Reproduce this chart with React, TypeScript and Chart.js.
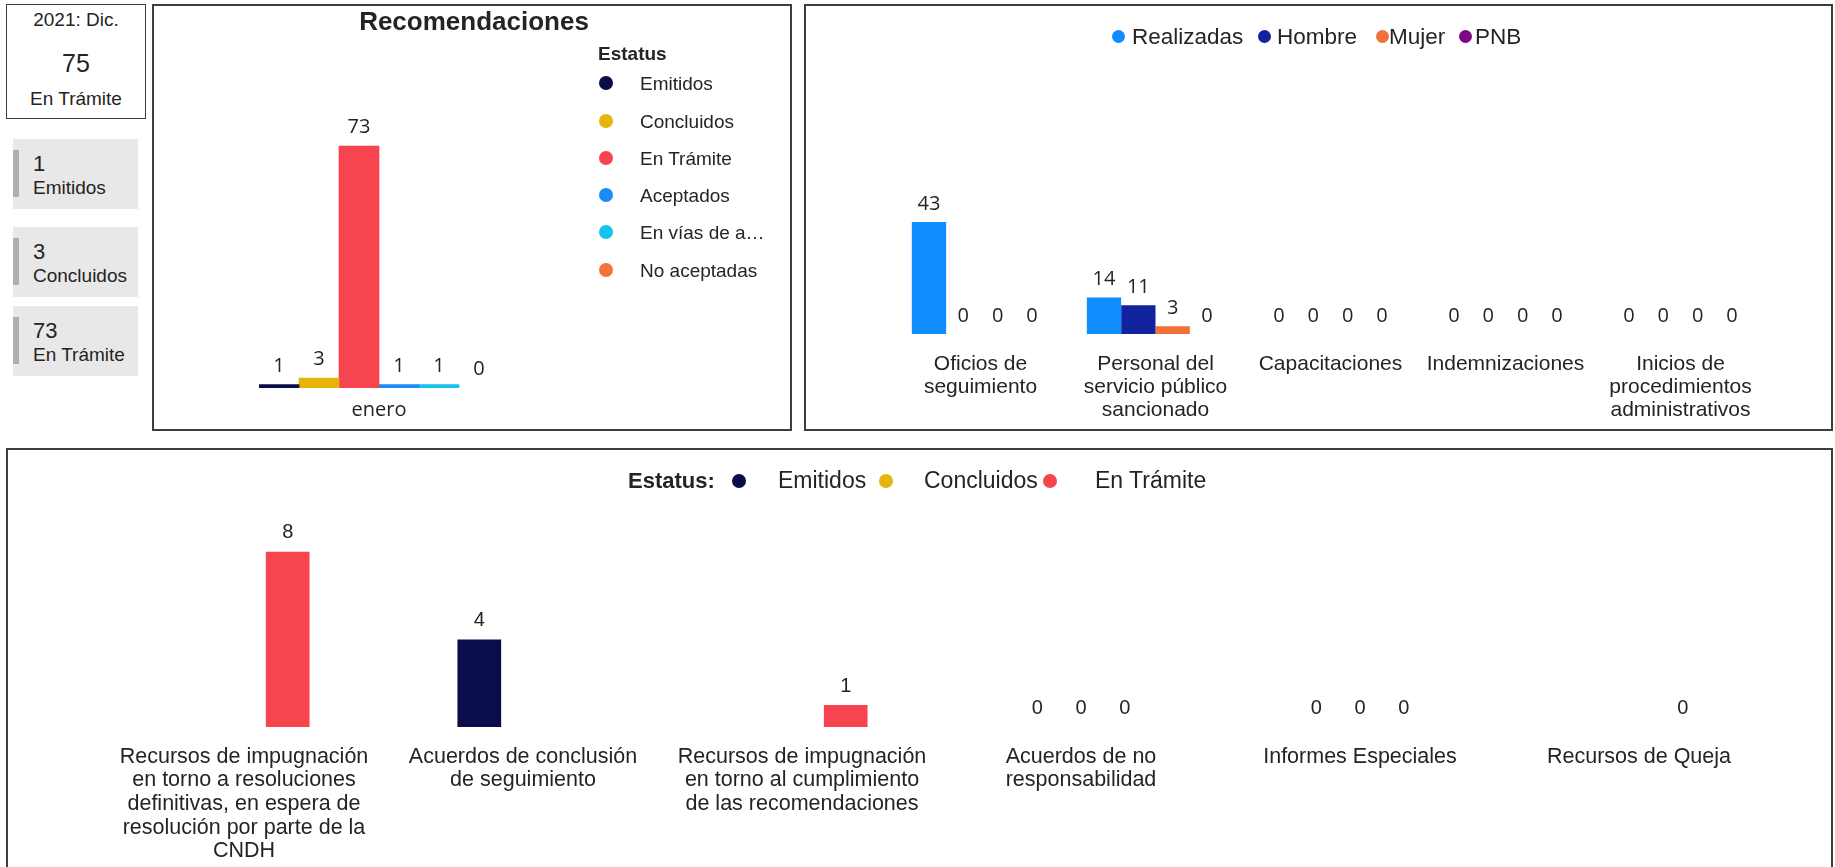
import React, { useEffect, useRef } from 'react';
import { Chart, registerables } from 'chart.js';

Chart.register(...registerables);

// ---------- DATA ----------
const kpiPeriod = '2021: Dic.';
const kpiTotal = 75;
const kpiTotalLabel = 'En Trámite';

const cardValues = [1, 3, 73];
const cardLabels = ['Emitidos', 'Concluidos', 'En Trámite'];

const recTitle = 'Recomendaciones';
const recCategories = ['enero'];
const recSeries = ['Emitidos', 'Concluidos', 'En Trámite', 'Aceptados', 'En vías de a…', 'No aceptadas'];
const recValues = [1, 3, 73, 1, 1, 0];
const recColors = ['#0B0C4A', '#E5B50B', '#F7454F', '#1A8CF5', '#16C3EE', '#F5733A'];

const segCategories = [
  ['Oficios de', 'seguimiento'],
  ['Personal del', 'servicio público', 'sancionado'],
  ['Capacitaciones'],
  ['Indemnizaciones'],
  ['Inicios de', 'procedimientos', 'administrativos'],
];
const segSeries = ['Realizadas', 'Hombre', 'Mujer', 'PNB'];
const segRealizadas = [43, 14, 0, 0, 0];
const segHombre = [0, 11, 0, 0, 0];
const segMujer = [0, 3, 0, 0, 0];
const segPNB = [0, 0, 0, 0, 0];
const segColors = ['#118DFF', '#12239E', '#F2703A', '#7B0A84'];

const otrosCategories = [
  ['Recursos de impugnación', 'en torno a resoluciones', 'definitivas, en espera de', 'resolución por parte de la', 'CNDH'],
  ['Acuerdos de conclusión', 'de seguimiento'],
  ['Recursos de impugnación', 'en torno al cumplimiento', 'de las recomendaciones'],
  ['Acuerdos de no', 'responsabilidad'],
  ['Informes Especiales'],
  ['Recursos de Queja'],
];
const otrosSeries = ['Emitidos', 'Concluidos', 'En Trámite'];
const otrosEmitidos = [null, 4, null, 0, 0, null];
const otrosConcluidos = [null, null, null, 0, 0, null];
const otrosEnTramite = [8, null, 1, 0, 0, 0];
const otrosColors = ['#0B0C4A', '#E5B50B', '#F7454F'];

// ---------- HELPERS ----------
const SANS = "'Liberation Sans', Arial, sans-serif";
const OPEN = "'Open Sans', 'Liberation Sans', sans-serif";
const TEXT = '#252423';
const BORDER = '#3d3d3d';

function colorUnlessZero(color: string) {
  return (c: any) => (c.raw === 0 ? 'rgba(0,0,0,0)' : color);
}

function valueLabels(font: string, offset: number) {
  return {
    id: 'valueLabels',
    afterDatasetsDraw(chart: any) {
      const ctx = chart.ctx;
      ctx.save();
      ctx.font = font;
      ctx.fillStyle = TEXT;
      ctx.textAlign = 'center';
      ctx.textBaseline = 'middle';
      chart.data.datasets.forEach((ds: any, di: number) => {
        const meta = chart.getDatasetMeta(di);
        meta.data.forEach((el: any, i: number) => {
          const v = ds.data[i];
          if (v === null || v === undefined) return;
          ctx.fillText(String(v), el.x, el.y - offset);
        });
      });
      ctx.restore();
    },
  };
}

function BarCanvas(props: { left: number; top: number; width: number; height: number; make: () => any }) {
  const ref = useRef<HTMLCanvasElement | null>(null);
  useEffect(() => {
    const chart = new Chart(ref.current as HTMLCanvasElement, props.make());
    return () => chart.destroy();
  }, []);
  return (
    <canvas
      ref={ref}
      width={props.width}
      height={props.height}
      style={{ position: 'absolute', left: props.left, top: props.top, width: props.width, height: props.height }}
    />
  );
}

function T(props: { x: number; y: number; size: number; bold?: boolean; align?: 'left' | 'center'; family?: string; children: any }) {
  const lh = Math.round(props.size * 1.3);
  const center = props.align === 'center';
  return (
    <div
      style={{
        position: 'absolute',
        left: center ? props.x - 300 : props.x,
        width: center ? 600 : undefined,
        top: props.y - lh / 2,
        height: lh,
        lineHeight: lh + 'px',
        fontSize: props.size,
        fontWeight: props.bold ? 700 : 400,
        fontFamily: props.family || SANS,
        color: TEXT,
        textAlign: center ? 'center' : 'left',
        whiteSpace: 'nowrap',
      }}
    >
      {props.children}
    </div>
  );
}

function Dot(props: { x: number; y: number; d: number; color: string }) {
  return (
    <div
      style={{
        position: 'absolute',
        left: props.x - props.d / 2,
        top: props.y - props.d / 2,
        width: props.d,
        height: props.d,
        borderRadius: '50%',
        background: props.color,
      }}
    />
  );
}

function Panel(props: { left: number; top: number; right: number; bottom: number }) {
  return (
    <div
      style={{
        position: 'absolute',
        left: props.left,
        top: props.top,
        width: props.right - props.left,
        height: props.bottom - props.top,
        border: '2px solid ' + BORDER,
        boxSizing: 'border-box',
        background: '#fff',
      }}
    />
  );
}

// ---------- CHART CONFIGS ----------
function makeRec() {
  return {
    type: 'bar',
    data: {
      labels: recCategories,
      datasets: recSeries.map((s, i) => ({
        label: s,
        data: [recValues[i]],
        backgroundColor: colorUnlessZero(recColors[i]),
        borderWidth: 0,
      })),
    },
    options: {
      responsive: false,
      animation: false,
      layout: { padding: { left: 105, right: 291, top: 117, bottom: 0 } },
      plugins: { legend: { display: false }, tooltip: { enabled: false } },
      datasets: { bar: { categoryPercentage: 1, barPercentage: 1 } },
      scales: {
        x: {
          grid: { display: false, drawTicks: false },
          border: { display: false },
          ticks: { padding: 10, color: TEXT, font: { family: OPEN, size: 20, lineHeight: 1.2 } },
          afterFit: (s: any) => { s.height = 40; },
        },
        y: { display: false, min: 0, max: 80 },
      },
    },
    plugins: [valueLabels(`20px ${OPEN}`, 18.5)],
  };
}

function makeSeg() {
  const vals = [segRealizadas, segHombre, segMujer, segPNB];
  return {
    type: 'bar',
    data: {
      labels: segCategories,
      datasets: segSeries.map((s, i) => ({
        label: s,
        data: vals[i],
        backgroundColor: colorUnlessZero(segColors[i]),
        borderWidth: 0,
      })),
    },
    options: {
      responsive: false,
      animation: false,
      layout: { padding: { left: 87, right: 63, top: 67.5, bottom: 0 } },
      plugins: { legend: { display: false }, tooltip: { enabled: false } },
      datasets: { bar: { categoryPercentage: 0.785, barPercentage: 1 } },
      scales: {
        x: {
          grid: { display: false, drawTicks: false },
          border: { display: false },
          ticks: { padding: 18.5, color: TEXT, autoSkip: false, maxRotation: 0, font: { family: SANS, size: 21, lineHeight: 1.1 } },
          afterFit: (s: any) => { s.height = 95; },
        },
        y: { display: false, min: 0, max: 100 },
      },
    },
    plugins: [valueLabels(`20px ${OPEN}`, 18)],
  };
}

function makeOtros() {
  const vals = [otrosEmitidos, otrosConcluidos, otrosEnTramite];
  return {
    type: 'bar',
    data: {
      labels: otrosCategories,
      datasets: otrosSeries.map((s, i) => ({
        label: s,
        data: vals[i],
        backgroundColor: colorUnlessZero(otrosColors[i]),
        borderWidth: 0,
      })),
    },
    options: {
      responsive: false,
      animation: false,
      layout: { padding: { left: 96.5, right: 52.5, top: 58, bottom: 0 } },
      plugins: { legend: { display: false }, tooltip: { enabled: false } },
      datasets: { bar: { categoryPercentage: 0.47, barPercentage: 1 } },
      scales: {
        x: {
          grid: { display: false, drawTicks: false },
          border: { display: false },
          ticks: { padding: 18, color: TEXT, autoSkip: false, maxRotation: 0, font: { family: SANS, size: 21.5, lineHeight: 1.098 } },
          afterFit: (s: any) => { s.height = 140; },
        },
        y: { display: false, min: 0, max: 10 },
      },
    },
    plugins: [valueLabels(`20px ${SANS}`, 19)],
  };
}

// ---------- APP ----------
export default function App() {
  const cardTops = [139, 227, 306];
  const recLegendY = [83, 121, 158, 195, 232, 270];
  const segDotX = [1118, 1264, 1382, 1465];
  const segTextX = [1132, 1277, 1389, 1475];
  const otrosDotX = [739, 886, 1050];
  const otrosTextX = [778, 924, 1095];

  return (
    <div style={{ position: 'absolute', left: 0, top: 0, width: 1835, height: 867, overflow: 'hidden', background: '#fff', fontFamily: SANS }}>
      {/* KPI box */}
      <div style={{ position: 'absolute', left: 6, top: 4, width: 140, height: 115, border: '1.5px solid ' + BORDER, boxSizing: 'border-box' }} />
      <T x={76} y={19} size={19} align="center">{kpiPeriod}</T>
      <T x={76} y={63} size={25} align="center">{kpiTotal}</T>
      <T x={76} y={98} size={19} align="center">{kpiTotalLabel}</T>

      {/* Cards */}
      {cardTops.map((t, i) => (
        <React.Fragment key={i}>
          <div style={{ position: 'absolute', left: 13, top: t, width: 125, height: 70, background: '#E8E8E8' }} />
          <div style={{ position: 'absolute', left: 13, top: t + 11, width: 6, height: 47, background: '#B3AEA9' }} />
          <T x={33} y={t + 24} size={22}>{cardValues[i]}</T>
          <T x={33} y={t + 48} size={19}>{cardLabels[i]}</T>
        </React.Fragment>
      ))}

      {/* Recomendaciones panel */}
      <Panel left={152} top={4} right={792} bottom={431} />
      <BarCanvas left={154} top={6} width={636} height={422} make={makeRec} />
      <T x={474} y={21} size={26} bold align="center">{recTitle}</T>
      <T x={598} y={53} size={19} bold>Estatus</T>
      {recSeries.map((s, i) => (
        <React.Fragment key={s}>
          <Dot x={606} y={recLegendY[i]} d={14} color={recColors[i]} />
          <T x={640} y={recLegendY[i]} size={19}>{s}</T>
        </React.Fragment>
      ))}

      {/* Seguimiento panel */}
      <Panel left={804} top={4} right={1833} bottom={431} />
      <BarCanvas left={806} top={6} width={1025} height={423} make={makeSeg} />
      {segSeries.map((s, i) => (
        <React.Fragment key={s}>
          <Dot x={segDotX[i]} y={36} d={13} color={segColors[i]} />
          <T x={segTextX[i]} y={36} size={22.5}>{s}</T>
        </React.Fragment>
      ))}

      {/* Otros panel */}
      <Panel left={6} top={448} right={1833} bottom={900} />
      <BarCanvas left={8} top={450} width={1823} height={417} make={makeOtros} />
      <T x={628} y={480} size={22} bold>Estatus:</T>
      {otrosSeries.map((s, i) => (
        <React.Fragment key={s}>
          <Dot x={otrosDotX[i]} y={481} d={14} color={otrosColors[i]} />
          <T x={otrosTextX[i]} y={480} size={23}>{s}</T>
        </React.Fragment>
      ))}
    </div>
  );
}
